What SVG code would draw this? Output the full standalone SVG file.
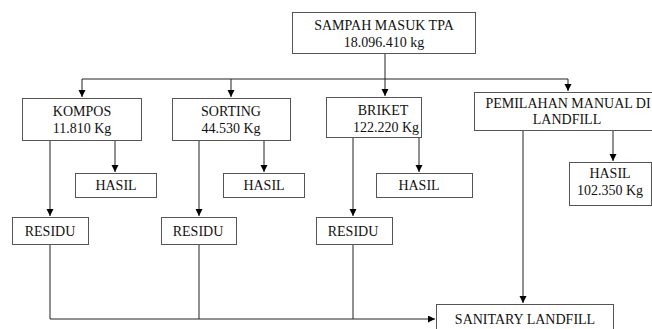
<svg xmlns="http://www.w3.org/2000/svg" width="652" height="329" viewBox="0 0 652 329">
<defs>
<marker id="ah" markerWidth="8" markerHeight="8" refX="7" refY="3.5" orient="auto" markerUnits="userSpaceOnUse">
<path d="M0,0 L7,3.5 L0,7 Z" fill="#000"/>
</marker>
<style>
.box{fill:#fff;stroke:#555;stroke-width:1}
.t{font-family:"Liberation Serif","Times New Roman",serif;font-size:14px;fill:#111;text-anchor:middle}
.c{fill:none;stroke:#222;stroke-width:1}
</style>
</defs>
<rect width="652" height="329" fill="#fff"/>
<g id="connectors">
<path class="c" d="M385,53 V79 M82,79 H568"/>
<path class="c" d="M82,79 V97" marker-end="url(#ah)"/>
<path class="c" d="M231,79 V97" marker-end="url(#ah)"/>
<path class="c" d="M385,79 V96" marker-end="url(#ah)"/>
<path class="c" d="M568,79 V91" marker-end="url(#ah)"/>
<path class="c" d="M115,140 V172" marker-end="url(#ah)"/>
<path class="c" d="M50,140 V216" marker-end="url(#ah)"/>
<path class="c" d="M264,140 V172" marker-end="url(#ah)"/>
<path class="c" d="M199,140 V216" marker-end="url(#ah)"/>
<path class="c" d="M419,137 V172" marker-end="url(#ah)"/>
<path class="c" d="M353,137 V216" marker-end="url(#ah)"/>
<path class="c" d="M613,130 V161" marker-end="url(#ah)"/>
<path class="c" d="M523,130 V303" marker-end="url(#ah)"/>
<path class="c" d="M50,244 V319 M199,244 V319 M353,244 V319"/>
<path class="c" d="M50,319 H435" marker-end="url(#ah)"/>
</g>
<g id="sampah"><rect class="box" x="292.5" y="12.5" width="183" height="41"/>
<text class="t" x="384" y="30">SAMPAH MASUK TPA</text><text class="t" x="384" y="47">18.096.410 kg</text></g>
<g id="kompos"><rect class="box" x="22.5" y="98.5" width="119" height="42"/>
<text class="t" x="82" y="116">KOMPOS</text><text class="t" x="82" y="133">11.810 Kg</text></g>
<g id="sorting"><rect class="box" x="172.5" y="98.5" width="118" height="42"/>
<text class="t" x="231" y="116">SORTING</text><text class="t" x="231" y="133">44.530 Kg</text></g>
<g id="briket"><rect class="box" x="326.5" y="97.5" width="95" height="40"/>
<text class="t" x="383" y="115">BRIKET</text><text class="t" x="386" y="132">122.220 Kg</text></g>
<g id="pemilahan"><rect class="box" x="474.5" y="92.5" width="180" height="38"/>
<text class="t" x="568" y="108">PEMILAHAN MANUAL DI</text><text class="t" x="567" y="124">LANDFILL</text></g>
<g id="hasil1"><rect class="box" x="75.5" y="173.5" width="81" height="24"/><text class="t" x="116" y="190">HASIL</text></g>
<g id="hasil2"><rect class="box" x="223.5" y="173.5" width="81" height="24"/><text class="t" x="264" y="190">HASIL</text></g>
<g id="hasil3"><rect class="box" x="376.5" y="173.5" width="96" height="24"/><text class="t" x="419" y="190">HASIL</text></g>
<g id="hasil4"><rect class="box" x="569.5" y="162.5" width="82" height="43"/>
<text class="t" x="610" y="178">HASIL</text><text class="t" x="610" y="195">102.350 Kg</text></g>
<g id="residu1"><rect class="box" x="12.5" y="217.5" width="76" height="27"/><text class="t" x="50" y="236">RESIDU</text></g>
<g id="residu2"><rect class="box" x="161.5" y="217.5" width="75" height="27"/><text class="t" x="198" y="236">RESIDU</text></g>
<g id="residu3"><rect class="box" x="316.5" y="217.5" width="76" height="27"/><text class="t" x="353" y="236">RESIDU</text></g>
<g id="sanitary"><rect class="box" x="436.5" y="304.5" width="177" height="30"/><text class="t" x="525" y="324">SANITARY LANDFILL</text></g>
</svg>
